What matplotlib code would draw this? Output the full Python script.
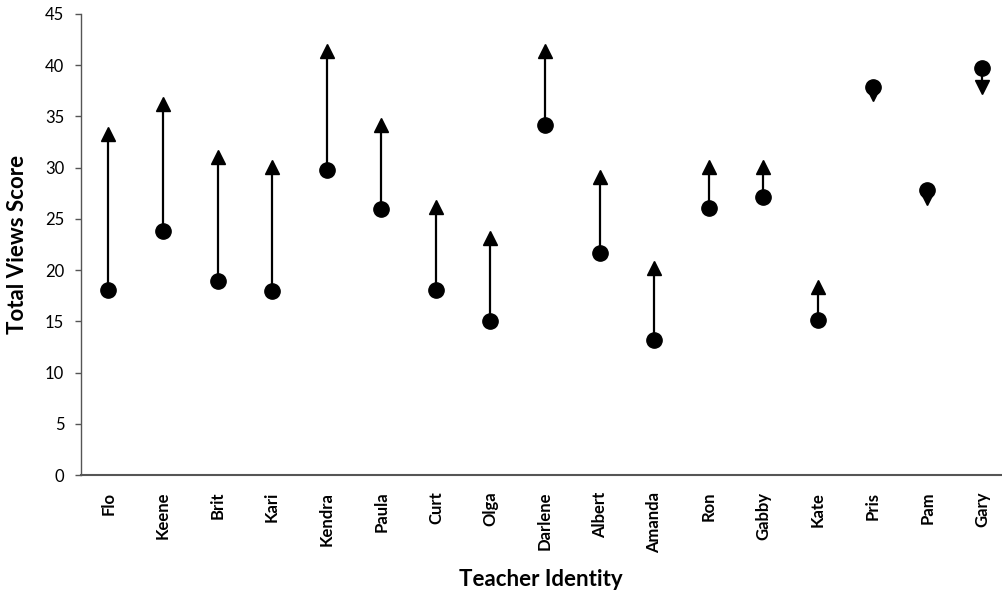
import matplotlib
matplotlib.use("Agg")
import matplotlib.pyplot as plt
import numpy as np

teachers = ["Flo", "Keene", "Brit", "Kari", "Kendra", "Paula", "Curt", "Olga",
            "Darlene", "Albert", "Amanda", "Ron", "Gabby", "Kate", "Pris", "Pam", "Gary"]
pre_scores = [18.1, 23.8, 18.9, 18.0, 29.8, 26.0, 18.1, 15.0,
              34.2, 21.7, 13.2, 26.1, 27.1, 15.1, 37.9, 27.8, 39.7]
post_scores = [33.3, 36.2, 31.0, 30.1, 41.4, 34.2, 26.2, 23.1,
               41.4, 29.1, 20.2, 30.1, 30.1, 18.4, 37.2, 27.0, 37.9]
y_ticks = [0, 5, 10, 15, 20, 25, 30, 35, 40, 45]

fig = plt.figure(figsize=(10.03, 5.97), dpi=100)
ax = fig.add_axes([81/1003, 122/597, (17*54.6)/1003, 461/597])

x = np.arange(len(teachers))
for xi, a, b in zip(x, pre_scores, post_scores):
    ax.plot([xi, xi], [a, b], color="black", lw=1.6, zorder=2)
    ax.plot(xi, a, "o", color="black", ms=11, zorder=3)
    ax.plot(xi, b, "^" if b > a else "v", color="black", ms=10, zorder=3)

ax.set_xlim(-0.5, 16.5)
ax.set_ylim(0, 45)
ax.set_yticks(y_ticks)
ax.set_xticks(x)
ax.set_xticklabels(teachers, rotation=90, fontfamily="Lato", fontweight="bold", fontsize=12)
ax.tick_params(axis="x", length=0, pad=12)
ax.tick_params(axis="y", length=4, width=1, pad=8, labelsize=12, color="#555555")
for lab in ax.get_yticklabels():
    lab.set_fontfamily("Lato")

for s in ["top", "right"]:
    ax.spines[s].set_visible(False)
ax.spines["left"].set_color("#555555")
ax.spines["bottom"].set_color("#555555")
ax.spines["left"].set_linewidth(1.0)
ax.spines["bottom"].set_linewidth(1.5)

ax.set_ylabel("Total Views Score", fontfamily="Lato", fontweight="bold", fontsize=16, labelpad=12)
fig.text(541/1003, 1 - 580/597, "Teacher Identity", fontfamily="Lato", fontweight="bold",
         fontsize=16, ha="center", va="center")

fig.savefig("out.png", dpi=100, facecolor="white")
